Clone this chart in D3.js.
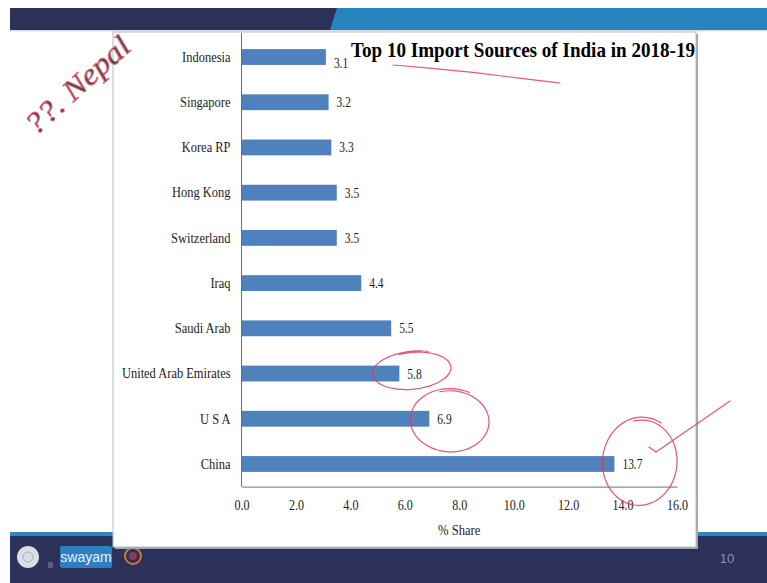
<!DOCTYPE html>
<html>
<head>
<meta charset="utf-8">
<script src="https://cdn.jsdelivr.net/npm/d3@7"></script>
<style>
  html, body { margin: 0; padding: 0; background: #ffffff; }
  svg { display: block; }
  text { font-family: "Liberation Serif", "Times New Roman", serif; fill: #1c1c1c; }
</style>
</head>
<body>
<svg id="slide" width="767" height="583"></svg>
<script>
// Import share by source country, 2018-19 (% of total imports)
const countries = ["Indonesia", "Singapore", "Korea RP", "Hong Kong", "Switzerland",
                   "Iraq", "Saudi Arab", "United Arab Emirates", "U S A", "China"];
const shares = [3.1, 3.2, 3.3, 3.5, 3.5, 4.4, 5.5, 5.8, 6.9, 13.7];
const xTicks = [0, 2, 4, 6, 8, 10, 12, 14, 16];
const titleText = "Top 10 Import Sources of India in 2018-19";
const xAxisLabel = "% Share";
const noteText = "??. Nepal";
const circledShares = [5.8, 6.9, 13.7];
const pageNumber = "10";

const svg = d3.select("#slide");
const NAVY = "#2b3158", BLUE = "#2584bf", BAR = "#4f81bd", INK = "#e23a5c";

// squeeze text horizontally like the narrow serif used on the slide
function condense(sel, k) {
  sel.each(function () {
    const w = this.getComputedTextLength();
    d3.select(this).attr("textLength", w * k).attr("lengthAdjust", "spacingAndGlyphs");
  });
}

// ---- slide frame ----
svg.append("rect").attr("width", 767).attr("height", 583).attr("fill", "#ffffff");
svg.append("rect").attr("x", 10).attr("y", 8).attr("width", 757).attr("height", 22).attr("fill", NAVY);
svg.append("polygon").attr("points", "337,8 767,8 767,30 330,30").attr("fill", BLUE);
svg.append("rect").attr("x", 10).attr("y", 30).attr("width", 757).attr("height", 1.5).attr("fill", "#d9dde6");

svg.append("rect").attr("x", 10).attr("y", 532).attr("width", 757).attr("height", 5).attr("fill", "#2a88c2");
svg.append("rect").attr("x", 10).attr("y", 536).attr("width", 757).attr("height", 47).attr("fill", NAVY);

// footer logos
svg.append("circle").attr("cx", 28).attr("cy", 557).attr("r", 11).attr("fill", "#d9dde5");
svg.append("circle").attr("cx", 28).attr("cy", 557).attr("r", 5).attr("fill", "none").attr("stroke", "#a9afbd");
svg.append("rect").attr("x", 48).attr("y", 562).attr("width", 5).attr("height", 6).attr("fill", "#5a6078");
svg.append("rect").attr("x", 60).attr("y", 546).attr("width", 52).attr("height", 22).attr("rx", 2).attr("fill", "#2e7fc1");
svg.append("text").attr("x", 86).attr("y", 562).attr("text-anchor", "middle")
  .style("font-family", "Liberation Sans, Arial, sans-serif").style("font-size", "14px")
  .style("fill", "#e8f2ff").text("swayam");
svg.append("circle").attr("cx", 133).attr("cy", 556).attr("r", 8).attr("fill", "none")
  .attr("stroke", "#d87a2a").attr("stroke-width", 2);
svg.append("circle").attr("cx", 133).attr("cy", 556).attr("r", 4).attr("fill", "#8a3a5a");
svg.append("text").attr("x", 727).attr("y", 563).attr("text-anchor", "middle")
  .style("font-family", "Liberation Sans, Arial, sans-serif").style("font-size", "13px")
  .style("fill", "#8a90a8").text(pageNumber);

// ---- chart panel ----
svg.append("rect").attr("x", 115).attr("y", 34).attr("width", 583).attr("height", 515).attr("fill", "#9ea3ad");
svg.append("rect").attr("x", 113).attr("y", 32).attr("width", 583).attr("height", 515)
  .attr("fill", "#ffffff").attr("stroke", "#b9bcc3").attr("stroke-width", 1);

const x = d3.scaleLinear().domain([0, 16]).range([241.5, 677]);
const y = d3.scaleBand().domain(countries).range([34.4, 486.6]).paddingInner(0.65).paddingOuter(0.325);

const plot = svg.append("g");

// bars
plot.selectAll("rect.bar").data(countries).join("rect")
  .attr("class", "bar")
  .attr("x", x(0))
  .attr("y", d => y(d))
  .attr("width", (d, i) => x(shares[i]) - x(0))
  .attr("height", y.bandwidth())
  .attr("fill", BAR);

// value labels (the top one sits a little low, clear of the title)
plot.selectAll("text.val").data(countries).join("text")
  .attr("class", "val")
  .attr("x", (d, i) => x(shares[i]) + 8)
  .attr("y", (d, i) => y(d) + y.bandwidth() / 2 + (i === 0 ? 6 : 0))
  .attr("dy", "0.36em")
  .style("font-size", "14px")
  .text((d, i) => shares[i].toFixed(1))
  .call(condense, 0.82);

// category axis
const yAxis = plot.append("g").attr("transform", `translate(${x(0)},0)`)
  .call(d3.axisLeft(y).tickSize(0).tickPadding(11));
yAxis.select(".domain").attr("stroke", "#6f6f6f").attr("d", "M0,33V486.6");
yAxis.selectAll("text").style("font-size", "15px").style("font-family", "Liberation Serif, serif")
  .attr("fill", "#1c1c1c").call(condense, 0.83);

// value axis
const xAxis = plot.append("g").attr("transform", "translate(0,486.6)")
  .call(d3.axisBottom(x).tickValues(xTicks).tickSize(0).tickPadding(13).tickFormat(d3.format(".1f")));
xAxis.select(".domain").attr("stroke", "#6f6f6f");
xAxis.selectAll("text").style("font-size", "14px").style("font-family", "Liberation Serif, serif")
  .attr("fill", "#1c1c1c").call(condense, 0.86);

plot.append("text").attr("x", (x.range()[0] + x.range()[1]) / 2).attr("y", 535)
  .attr("text-anchor", "middle").style("font-size", "14px").text(xAxisLabel).call(condense, 0.9);

// title
svg.append("text").attr("x", 351).attr("y", 57)
  .style("font-size", "22px").style("font-weight", "bold").style("fill", "#000")
  .attr("textLength", 344).attr("lengthAdjust", "spacingAndGlyphs")
  .text(titleText);

// ---- pen annotations ----
const ink = svg.append("g").attr("fill", "none").attr("stroke", INK)
  .attr("stroke-width", 1.2).attr("stroke-linecap", "round").attr("opacity", 0.85);
const pen = d3.line().curve(d3.curveBasis);

ink.append("path").attr("d", pen([[393, 65], [430, 68], [480, 73], [525, 79], [560, 83]]));

// loops drawn around selected value labels
const loopSpec = { 5.8: [13, -3, 38, 18, -0.1], 6.9: [21, 2, 38, 30, 0.05], 13.7: [26, -2, 36, 42, 0.1] };
circledShares.forEach(v => {
  const c = countries[shares.indexOf(v)];
  const [dx, dy, rx, ry, tilt] = loopSpec[v];
  const cx = x(v) + dx, cy = y(c) + y.bandwidth() / 2 + dy;
  const pts = d3.range(0, 1.12, 0.02).map(t => {
    const a = -Math.PI * 0.6 + t * Math.PI * 2;
    const s = 1 + 0.07 * t;
    const px = rx * s * Math.cos(a), py = ry * s * Math.sin(a);
    return [cx + px * Math.cos(tilt) - py * Math.sin(tilt), cy + px * Math.sin(tilt) + py * Math.cos(tilt)];
  });
  ink.append("path").attr("d", pen(pts));
});

// tick mark beside the largest share
ink.append("path").attr("d", d3.line()([[649, 447], [656, 452], [730, 401]]));

// margin note
svg.append("text")
  .attr("transform", "translate(36,136) rotate(-42)")
  .style("font-size", "30px").style("font-style", "italic")
  .style("font-family", "Liberation Serif, serif")
  .attr("fill", "none").attr("stroke", INK).attr("stroke-width", 0.8).attr("opacity", 0.8)
  .attr("textLength", 130).attr("lengthAdjust", "spacingAndGlyphs")
  .text(noteText);
</script>
</body>
</html>
